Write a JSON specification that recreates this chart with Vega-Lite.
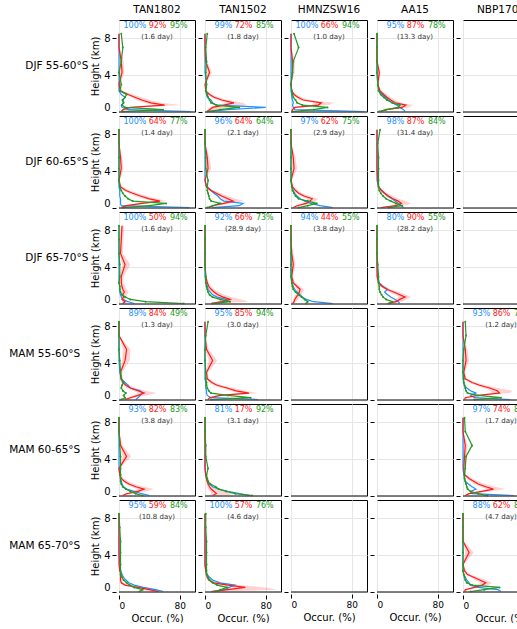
{
"$schema":"https://vega.github.io/schema/vega-lite/v6.json",
"padding":{"left":5,"top":4,"right":0,"bottom":0},
"config":{"font":"DejaVu Sans","view":{"stroke":"black","strokeWidth":1},
"axis":{"labelFontSize":10,"titleFontSize":10,"titleFontWeight":"normal","gridColor":"#e6e6e6","tickColor":"black","domain":false,"labelColor":"black","titleColor":"black","tickSize":4,"labelPadding":2,"titlePadding":3,"labelOverlap":false},
"axisX":{"labelFontSize":9},
"header":{"labelFontSize":10.5,"labelColor":"black"}},
"data":{"values":[
{"c":"TAN1802","r":"DJF  55-60°S","ot":"100%","gt":"92%","mt":"95%","d":"(1.6 day)"},
{"c":"TAN1802","r":"DJF  55-60°S","h":0.05,"o":95,"g":3,"l":2,"u":5,"m":5},
{"c":"TAN1802","r":"DJF  55-60°S","h":0.25,"o":12,"g":5,"l":3,"u":8,"m":58},
{"c":"TAN1802","r":"DJF  55-60°S","h":0.5,"o":4,"g":15,"l":10,"u":22,"m":8},
{"c":"TAN1802","r":"DJF  55-60°S","h":0.75,"o":3,"g":60,"l":48,"u":82,"m":4},
{"c":"TAN1802","r":"DJF  55-60°S","h":1,"o":6,"g":42,"l":33,"u":55,"m":6},
{"c":"TAN1802","r":"DJF  55-60°S","h":1.3,"o":4,"g":30,"l":23,"u":40,"m":5},
{"c":"TAN1802","r":"DJF  55-60°S","h":1.6,"o":8,"g":21,"l":16,"u":30,"m":8},
{"c":"TAN1802","r":"DJF  55-60°S","h":1.9,"o":3,"g":12,"l":8,"u":18,"m":10},
{"c":"TAN1802","r":"DJF  55-60°S","h":2.3,"o":0,"g":2,"l":0,"u":5,"m":1},
{"c":"TAN1802","r":"DJF  55-60°S","h":3,"o":0,"g":0,"l":0,"u":2,"m":3},
{"c":"TAN1802","r":"DJF  55-60°S","h":4.3,"o":0,"g":4,"l":1,"u":7,"m":0},
{"c":"TAN1802","r":"DJF  55-60°S","h":5.5,"o":0,"g":3,"l":1,"u":6,"m":3},
{"c":"TAN1802","r":"DJF  55-60°S","h":7,"o":0,"g":0,"l":0,"u":1,"m":5},
{"c":"TAN1802","r":"DJF  55-60°S","h":8.5,"o":0,"g":0,"l":0,"u":0,"m":3},
{"c":"TAN1502","r":"DJF  55-60°S","ot":"99%","gt":"72%","mt":"85%","d":"(1.8 day)"},
{"c":"TAN1502","r":"DJF  55-60°S","h":0.05,"o":5,"g":3,"l":2,"u":5,"m":3},
{"c":"TAN1502","r":"DJF  55-60°S","h":0.25,"o":30,"g":6,"l":3,"u":12,"m":20},
{"c":"TAN1502","r":"DJF  55-60°S","h":0.5,"o":80,"g":10,"l":6,"u":40,"m":45},
{"c":"TAN1502","r":"DJF  55-60°S","h":0.75,"o":15,"g":25,"l":15,"u":55,"m":15},
{"c":"TAN1502","r":"DJF  55-60°S","h":1,"o":10,"g":38,"l":28,"u":50,"m":8},
{"c":"TAN1502","r":"DJF  55-60°S","h":1.3,"o":8,"g":22,"l":16,"u":30,"m":6},
{"c":"TAN1502","r":"DJF  55-60°S","h":1.6,"o":3,"g":12,"l":8,"u":18,"m":4},
{"c":"TAN1502","r":"DJF  55-60°S","h":1.9,"o":2,"g":6,"l":3,"u":9,"m":3},
{"c":"TAN1502","r":"DJF  55-60°S","h":2.3,"o":1,"g":1,"l":0,"u":3,"m":1},
{"c":"TAN1502","r":"DJF  55-60°S","h":3,"o":2,"g":0,"l":0,"u":1,"m":2},
{"c":"TAN1502","r":"DJF  55-60°S","h":4.3,"o":0,"g":6,"l":3,"u":9,"m":1},
{"c":"TAN1502","r":"DJF  55-60°S","h":5.5,"o":0,"g":1,"l":0,"u":3,"m":2},
{"c":"TAN1502","r":"DJF  55-60°S","h":7,"o":0,"g":0,"l":0,"u":0,"m":1},
{"c":"TAN1502","r":"DJF  55-60°S","h":8.5,"o":0,"g":0,"l":0,"u":0,"m":3},
{"c":"HMNZSW16","r":"DJF  55-60°S","ot":"100%","gt":"66%","mt":"94%","d":"(1.0 day)"},
{"c":"HMNZSW16","r":"DJF  55-60°S","h":0.05,"o":97,"g":1,"l":0,"u":2,"m":2},
{"c":"HMNZSW16","r":"DJF  55-60°S","h":0.25,"o":5,"g":2,"l":1,"u":4,"m":30},
{"c":"HMNZSW16","r":"DJF  55-60°S","h":0.5,"o":3,"g":5,"l":3,"u":9,"m":48},
{"c":"HMNZSW16","r":"DJF  55-60°S","h":0.75,"o":2,"g":36,"l":27,"u":50,"m":15},
{"c":"HMNZSW16","r":"DJF  55-60°S","h":1,"o":3,"g":40,"l":30,"u":57,"m":8},
{"c":"HMNZSW16","r":"DJF  55-60°S","h":1.3,"o":2,"g":16,"l":11,"u":24,"m":6},
{"c":"HMNZSW16","r":"DJF  55-60°S","h":1.6,"o":1,"g":9,"l":6,"u":14,"m":3},
{"c":"HMNZSW16","r":"DJF  55-60°S","h":1.9,"o":1,"g":4,"l":2,"u":7,"m":2},
{"c":"HMNZSW16","r":"DJF  55-60°S","h":2.3,"o":0,"g":1,"l":0,"u":2,"m":1},
{"c":"HMNZSW16","r":"DJF  55-60°S","h":3,"o":0,"g":0,"l":0,"u":0,"m":0},
{"c":"HMNZSW16","r":"DJF  55-60°S","h":4.3,"o":0,"g":2,"l":0,"u":5,"m":2},
{"c":"HMNZSW16","r":"DJF  55-60°S","h":5.5,"o":0,"g":2,"l":0,"u":5,"m":3},
{"c":"HMNZSW16","r":"DJF  55-60°S","h":7,"o":0,"g":0,"l":0,"u":1,"m":10},
{"c":"HMNZSW16","r":"DJF  55-60°S","h":8.5,"o":0,"g":0,"l":0,"u":0,"m":4},
{"c":"AA15","r":"DJF  55-60°S","ot":"95%","gt":"87%","mt":"78%","d":"(13.3 day)"},
{"c":"AA15","r":"DJF  55-60°S","h":0.05,"o":37,"g":5,"l":3,"u":8,"m":3},
{"c":"AA15","r":"DJF  55-60°S","h":0.25,"o":35,"g":12,"l":8,"u":17,"m":12},
{"c":"AA15","r":"DJF  55-60°S","h":0.5,"o":30,"g":33,"l":27,"u":42,"m":28},
{"c":"AA15","r":"DJF  55-60°S","h":0.75,"o":26,"g":38,"l":31,"u":47,"m":30},
{"c":"AA15","r":"DJF  55-60°S","h":1,"o":20,"g":24,"l":19,"u":31,"m":20},
{"c":"AA15","r":"DJF  55-60°S","h":1.3,"o":15,"g":18,"l":14,"u":24,"m":13},
{"c":"AA15","r":"DJF  55-60°S","h":1.6,"o":11,"g":13,"l":10,"u":18,"m":9},
{"c":"AA15","r":"DJF  55-60°S","h":1.9,"o":7,"g":9,"l":6,"u":13,"m":5},
{"c":"AA15","r":"DJF  55-60°S","h":2.3,"o":3,"g":4,"l":2,"u":6,"m":2},
{"c":"AA15","r":"DJF  55-60°S","h":3,"o":1,"g":1,"l":0,"u":2,"m":1},
{"c":"AA15","r":"DJF  55-60°S","h":4.3,"o":0,"g":3,"l":1,"u":5,"m":0},
{"c":"AA15","r":"DJF  55-60°S","h":5.5,"o":0,"g":0,"l":0,"u":1,"m":0},
{"c":"AA15","r":"DJF  55-60°S","h":7,"o":0,"g":0,"l":0,"u":0,"m":0},
{"c":"AA15","r":"DJF  55-60°S","h":8.5,"o":0,"g":0,"l":0,"u":0,"m":0},
{"c":"NBP1704","r":"DJF  55-60°S"},
{"c":"TAN1802","r":"DJF  60-65°S","ot":"100%","gt":"64%","mt":"77%","d":"(1.4 day)"},
{"c":"TAN1802","r":"DJF  60-65°S","h":0.05,"o":93,"g":3,"l":2,"u":5,"m":5},
{"c":"TAN1802","r":"DJF  60-65°S","h":0.25,"o":3,"g":10,"l":7,"u":15,"m":40},
{"c":"TAN1802","r":"DJF  60-65°S","h":0.5,"o":2,"g":30,"l":22,"u":40,"m":62},
{"c":"TAN1802","r":"DJF  60-65°S","h":0.75,"o":2,"g":54,"l":44,"u":62,"m":18},
{"c":"TAN1802","r":"DJF  60-65°S","h":1,"o":2,"g":40,"l":32,"u":50,"m":12},
{"c":"TAN1802","r":"DJF  60-65°S","h":1.3,"o":1,"g":28,"l":21,"u":36,"m":8},
{"c":"TAN1802","r":"DJF  60-65°S","h":1.6,"o":1,"g":18,"l":13,"u":25,"m":5},
{"c":"TAN1802","r":"DJF  60-65°S","h":1.9,"o":1,"g":9,"l":6,"u":14,"m":3},
{"c":"TAN1802","r":"DJF  60-65°S","h":2.3,"o":0,"g":2,"l":0,"u":4,"m":1},
{"c":"TAN1802","r":"DJF  60-65°S","h":3,"o":0,"g":0,"l":0,"u":1,"m":0},
{"c":"TAN1802","r":"DJF  60-65°S","h":4.3,"o":0,"g":3,"l":1,"u":6,"m":0},
{"c":"TAN1802","r":"DJF  60-65°S","h":5.5,"o":0,"g":2,"l":0,"u":4,"m":0},
{"c":"TAN1802","r":"DJF  60-65°S","h":7,"o":0,"g":0,"l":0,"u":0,"m":0},
{"c":"TAN1802","r":"DJF  60-65°S","h":8.5,"o":0,"g":0,"l":0,"u":0,"m":0},
{"c":"TAN1502","r":"DJF  60-65°S","ot":"96%","gt":"64%","mt":"64%","d":"(2.1 day)"},
{"c":"TAN1502","r":"DJF  60-65°S","h":0.05,"o":10,"g":5,"l":3,"u":8,"m":3},
{"c":"TAN1502","r":"DJF  60-65°S","h":0.25,"o":45,"g":10,"l":6,"u":15,"m":10},
{"c":"TAN1502","r":"DJF  60-65°S","h":0.5,"o":50,"g":25,"l":18,"u":35,"m":20},
{"c":"TAN1502","r":"DJF  60-65°S","h":0.75,"o":25,"g":37,"l":28,"u":51,"m":8},
{"c":"TAN1502","r":"DJF  60-65°S","h":1,"o":20,"g":30,"l":23,"u":40,"m":6},
{"c":"TAN1502","r":"DJF  60-65°S","h":1.3,"o":17,"g":22,"l":16,"u":30,"m":5},
{"c":"TAN1502","r":"DJF  60-65°S","h":1.6,"o":12,"g":15,"l":10,"u":21,"m":4},
{"c":"TAN1502","r":"DJF  60-65°S","h":1.9,"o":8,"g":8,"l":5,"u":12,"m":3},
{"c":"TAN1502","r":"DJF  60-65°S","h":2.3,"o":2,"g":2,"l":0,"u":4,"m":3},
{"c":"TAN1502","r":"DJF  60-65°S","h":3,"o":0,"g":0,"l":0,"u":1,"m":4},
{"c":"TAN1502","r":"DJF  60-65°S","h":4.3,"o":0,"g":4,"l":1,"u":8,"m":1},
{"c":"TAN1502","r":"DJF  60-65°S","h":5.5,"o":0,"g":3,"l":1,"u":6,"m":1},
{"c":"TAN1502","r":"DJF  60-65°S","h":7,"o":0,"g":0,"l":0,"u":0,"m":0},
{"c":"TAN1502","r":"DJF  60-65°S","h":8.5,"o":0,"g":0,"l":0,"u":0,"m":0},
{"c":"HMNZSW16","r":"DJF  60-65°S","ot":"97%","gt":"62%","mt":"75%","d":"(2.9 day)"},
{"c":"HMNZSW16","r":"DJF  60-65°S","h":0.05,"o":55,"g":3,"l":2,"u":5,"m":10},
{"c":"HMNZSW16","r":"DJF  60-65°S","h":0.25,"o":38,"g":8,"l":5,"u":12,"m":22},
{"c":"HMNZSW16","r":"DJF  60-65°S","h":0.5,"o":26,"g":20,"l":14,"u":28,"m":34},
{"c":"HMNZSW16","r":"DJF  60-65°S","h":0.75,"o":18,"g":25,"l":19,"u":33,"m":22},
{"c":"HMNZSW16","r":"DJF  60-65°S","h":1,"o":12,"g":28,"l":21,"u":36,"m":10},
{"c":"HMNZSW16","r":"DJF  60-65°S","h":1.3,"o":8,"g":17,"l":12,"u":24,"m":6},
{"c":"HMNZSW16","r":"DJF  60-65°S","h":1.6,"o":5,"g":10,"l":7,"u":15,"m":4},
{"c":"HMNZSW16","r":"DJF  60-65°S","h":1.9,"o":3,"g":6,"l":4,"u":9,"m":2},
{"c":"HMNZSW16","r":"DJF  60-65°S","h":2.3,"o":1,"g":2,"l":0,"u":4,"m":1},
{"c":"HMNZSW16","r":"DJF  60-65°S","h":3,"o":0,"g":0,"l":0,"u":1,"m":0},
{"c":"HMNZSW16","r":"DJF  60-65°S","h":4.3,"o":0,"g":4,"l":1,"u":8,"m":0},
{"c":"HMNZSW16","r":"DJF  60-65°S","h":5.5,"o":0,"g":3,"l":1,"u":6,"m":0},
{"c":"HMNZSW16","r":"DJF  60-65°S","h":7,"o":0,"g":0,"l":0,"u":0,"m":0},
{"c":"HMNZSW16","r":"DJF  60-65°S","h":8.5,"o":0,"g":0,"l":0,"u":0,"m":0},
{"c":"AA15","r":"DJF  60-65°S","ot":"98%","gt":"87%","mt":"84%","d":"(31.4 day)"},
{"c":"AA15","r":"DJF  60-65°S","h":0.05,"o":35,"g":5,"l":3,"u":8,"m":15},
{"c":"AA15","r":"DJF  60-65°S","h":0.25,"o":32,"g":25,"l":19,"u":35,"m":33},
{"c":"AA15","r":"DJF  60-65°S","h":0.5,"o":28,"g":32,"l":25,"u":45,"m":25},
{"c":"AA15","r":"DJF  60-65°S","h":0.75,"o":24,"g":28,"l":22,"u":38,"m":18},
{"c":"AA15","r":"DJF  60-65°S","h":1,"o":20,"g":21,"l":16,"u":28,"m":12},
{"c":"AA15","r":"DJF  60-65°S","h":1.3,"o":14,"g":15,"l":11,"u":21,"m":8},
{"c":"AA15","r":"DJF  60-65°S","h":1.6,"o":10,"g":10,"l":7,"u":14,"m":5},
{"c":"AA15","r":"DJF  60-65°S","h":1.9,"o":6,"g":6,"l":4,"u":9,"m":3},
{"c":"AA15","r":"DJF  60-65°S","h":2.3,"o":2,"g":2,"l":1,"u":4,"m":2},
{"c":"AA15","r":"DJF  60-65°S","h":3,"o":0,"g":1,"l":0,"u":2,"m":2},
{"c":"AA15","r":"DJF  60-65°S","h":4.3,"o":0,"g":0,"l":0,"u":1,"m":2},
{"c":"AA15","r":"DJF  60-65°S","h":5.5,"o":0,"g":0,"l":0,"u":0,"m":2},
{"c":"AA15","r":"DJF  60-65°S","h":7,"o":0,"g":0,"l":0,"u":0,"m":1},
{"c":"AA15","r":"DJF  60-65°S","h":8.5,"o":0,"g":0,"l":0,"u":0,"m":4},
{"c":"NBP1704","r":"DJF  60-65°S"},
{"c":"TAN1802","r":"DJF  65-70°S","ot":"100%","gt":"50%","mt":"94%","d":"(1.6 day)"},
{"c":"TAN1802","r":"DJF  65-70°S","h":0.05,"o":20,"g":5,"l":3,"u":9,"m":85},
{"c":"TAN1802","r":"DJF  65-70°S","h":0.25,"o":12,"g":8,"l":5,"u":14,"m":35},
{"c":"TAN1802","r":"DJF  65-70°S","h":0.5,"o":5,"g":4,"l":2,"u":8,"m":15},
{"c":"TAN1802","r":"DJF  65-70°S","h":0.75,"o":3,"g":6,"l":3,"u":11,"m":8},
{"c":"TAN1802","r":"DJF  65-70°S","h":1,"o":2,"g":5,"l":3,"u":10,"m":4},
{"c":"TAN1802","r":"DJF  65-70°S","h":1.3,"o":1,"g":7,"l":4,"u":13,"m":2},
{"c":"TAN1802","r":"DJF  65-70°S","h":1.6,"o":1,"g":5,"l":3,"u":10,"m":1},
{"c":"TAN1802","r":"DJF  65-70°S","h":1.9,"o":1,"g":4,"l":2,"u":8,"m":1},
{"c":"TAN1802","r":"DJF  65-70°S","h":2.3,"o":0,"g":3,"l":1,"u":6,"m":0},
{"c":"TAN1802","r":"DJF  65-70°S","h":3,"o":0,"g":3,"l":1,"u":6,"m":1},
{"c":"TAN1802","r":"DJF  65-70°S","h":4.3,"o":0,"g":8,"l":4,"u":15,"m":1},
{"c":"TAN1802","r":"DJF  65-70°S","h":5.5,"o":0,"g":2,"l":0,"u":5,"m":0},
{"c":"TAN1802","r":"DJF  65-70°S","h":7,"o":0,"g":3,"l":1,"u":6,"m":0},
{"c":"TAN1802","r":"DJF  65-70°S","h":8.5,"o":0,"g":4,"l":2,"u":7,"m":0},
{"c":"TAN1502","r":"DJF  65-70°S","ot":"92%","gt":"66%","mt":"73%","d":"(28.9 day)"},
{"c":"TAN1502","r":"DJF  65-70°S","h":0.05,"o":16,"g":8,"l":5,"u":14,"m":10},
{"c":"TAN1502","r":"DJF  65-70°S","h":0.25,"o":25,"g":22,"l":15,"u":58,"m":33},
{"c":"TAN1502","r":"DJF  65-70°S","h":0.5,"o":28,"g":33,"l":24,"u":48,"m":20},
{"c":"TAN1502","r":"DJF  65-70°S","h":0.75,"o":16,"g":24,"l":17,"u":35,"m":10},
{"c":"TAN1502","r":"DJF  65-70°S","h":1,"o":10,"g":17,"l":12,"u":25,"m":6},
{"c":"TAN1502","r":"DJF  65-70°S","h":1.3,"o":7,"g":12,"l":8,"u":18,"m":4},
{"c":"TAN1502","r":"DJF  65-70°S","h":1.6,"o":4,"g":8,"l":5,"u":12,"m":3},
{"c":"TAN1502","r":"DJF  65-70°S","h":1.9,"o":3,"g":5,"l":3,"u":8,"m":2},
{"c":"TAN1502","r":"DJF  65-70°S","h":2.3,"o":1,"g":3,"l":1,"u":5,"m":1},
{"c":"TAN1502","r":"DJF  65-70°S","h":3,"o":0,"g":1,"l":0,"u":2,"m":1},
{"c":"TAN1502","r":"DJF  65-70°S","h":4.3,"o":0,"g":0,"l":0,"u":1,"m":0},
{"c":"TAN1502","r":"DJF  65-70°S","h":5.5,"o":0,"g":0,"l":0,"u":0,"m":0},
{"c":"TAN1502","r":"DJF  65-70°S","h":7,"o":0,"g":0,"l":0,"u":0,"m":0},
{"c":"TAN1502","r":"DJF  65-70°S","h":8.5,"o":0,"g":0,"l":0,"u":0,"m":0},
{"c":"HMNZSW16","r":"DJF  65-70°S","ot":"94%","gt":"44%","mt":"55%","d":"(3.8 day)"},
{"c":"HMNZSW16","r":"DJF  65-70°S","h":0.05,"o":55,"g":2,"l":1,"u":4,"m":20},
{"c":"HMNZSW16","r":"DJF  65-70°S","h":0.25,"o":30,"g":4,"l":2,"u":7,"m":22},
{"c":"HMNZSW16","r":"DJF  65-70°S","h":0.5,"o":20,"g":5,"l":3,"u":9,"m":18},
{"c":"HMNZSW16","r":"DJF  65-70°S","h":0.75,"o":15,"g":7,"l":4,"u":12,"m":14},
{"c":"HMNZSW16","r":"DJF  65-70°S","h":1,"o":12,"g":9,"l":6,"u":14,"m":10},
{"c":"HMNZSW16","r":"DJF  65-70°S","h":1.3,"o":8,"g":11,"l":8,"u":16,"m":6},
{"c":"HMNZSW16","r":"DJF  65-70°S","h":1.6,"o":5,"g":12,"l":8,"u":17,"m":3},
{"c":"HMNZSW16","r":"DJF  65-70°S","h":1.9,"o":3,"g":8,"l":5,"u":12,"m":2},
{"c":"HMNZSW16","r":"DJF  65-70°S","h":2.3,"o":1,"g":3,"l":1,"u":6,"m":1},
{"c":"HMNZSW16","r":"DJF  65-70°S","h":3,"o":0,"g":1,"l":0,"u":2,"m":0},
{"c":"HMNZSW16","r":"DJF  65-70°S","h":4.3,"o":0,"g":3,"l":1,"u":6,"m":0},
{"c":"HMNZSW16","r":"DJF  65-70°S","h":5.5,"o":0,"g":1,"l":0,"u":3,"m":0},
{"c":"HMNZSW16","r":"DJF  65-70°S","h":7,"o":0,"g":0,"l":0,"u":0,"m":0},
{"c":"HMNZSW16","r":"DJF  65-70°S","h":8.5,"o":0,"g":0,"l":0,"u":0,"m":0},
{"c":"AA15","r":"DJF  65-70°S","ot":"80%","gt":"90%","mt":"55%","d":"(28.2 day)"},
{"c":"AA15","r":"DJF  65-70°S","h":0.05,"o":30,"g":14,"l":10,"u":20,"m":16},
{"c":"AA15","r":"DJF  65-70°S","h":0.25,"o":28,"g":25,"l":19,"u":33,"m":20},
{"c":"AA15","r":"DJF  65-70°S","h":0.5,"o":24,"g":30,"l":23,"u":39,"m":12},
{"c":"AA15","r":"DJF  65-70°S","h":0.75,"o":18,"g":37,"l":29,"u":45,"m":8},
{"c":"AA15","r":"DJF  65-70°S","h":1,"o":14,"g":30,"l":23,"u":38,"m":6},
{"c":"AA15","r":"DJF  65-70°S","h":1.3,"o":10,"g":22,"l":16,"u":29,"m":4},
{"c":"AA15","r":"DJF  65-70°S","h":1.6,"o":14,"g":13,"l":9,"u":18,"m":3},
{"c":"AA15","r":"DJF  65-70°S","h":1.9,"o":8,"g":7,"l":4,"u":11,"m":3},
{"c":"AA15","r":"DJF  65-70°S","h":2.3,"o":3,"g":2,"l":1,"u":4,"m":2},
{"c":"AA15","r":"DJF  65-70°S","h":3,"o":1,"g":0,"l":0,"u":1,"m":2},
{"c":"AA15","r":"DJF  65-70°S","h":4.3,"o":0,"g":0,"l":0,"u":0,"m":1},
{"c":"AA15","r":"DJF  65-70°S","h":5.5,"o":0,"g":0,"l":0,"u":0,"m":0},
{"c":"AA15","r":"DJF  65-70°S","h":7,"o":0,"g":0,"l":0,"u":0,"m":0},
{"c":"AA15","r":"DJF  65-70°S","h":8.5,"o":0,"g":0,"l":0,"u":0,"m":0},
{"c":"NBP1704","r":"DJF  65-70°S"},
{"c":"TAN1802","r":"MAM  55-60°S","ot":"89%","gt":"84%","mt":"49%","d":"(1.3 day)"},
{"c":"TAN1802","r":"MAM  55-60°S","h":0.05,"o":22,"g":8,"l":5,"u":12,"m":3},
{"c":"TAN1802","r":"MAM  55-60°S","h":0.25,"o":25,"g":15,"l":10,"u":22,"m":8},
{"c":"TAN1802","r":"MAM  55-60°S","h":0.5,"o":28,"g":25,"l":18,"u":36,"m":6},
{"c":"TAN1802","r":"MAM  55-60°S","h":0.75,"o":31,"g":33,"l":25,"u":50,"m":9},
{"c":"TAN1802","r":"MAM  55-60°S","h":1,"o":28,"g":25,"l":18,"u":35,"m":5},
{"c":"TAN1802","r":"MAM  55-60°S","h":1.3,"o":15,"g":15,"l":10,"u":22,"m":3},
{"c":"TAN1802","r":"MAM  55-60°S","h":1.6,"o":12,"g":9,"l":6,"u":14,"m":4},
{"c":"TAN1802","r":"MAM  55-60°S","h":1.9,"o":8,"g":5,"l":3,"u":8,"m":6},
{"c":"TAN1802","r":"MAM  55-60°S","h":2.3,"o":3,"g":3,"l":1,"u":5,"m":3},
{"c":"TAN1802","r":"MAM  55-60°S","h":3,"o":1,"g":2,"l":1,"u":4,"m":2},
{"c":"TAN1802","r":"MAM  55-60°S","h":4.3,"o":0,"g":8,"l":4,"u":14,"m":1},
{"c":"TAN1802","r":"MAM  55-60°S","h":5.5,"o":0,"g":10,"l":5,"u":15,"m":0},
{"c":"TAN1802","r":"MAM  55-60°S","h":7,"o":0,"g":0,"l":0,"u":0,"m":0},
{"c":"TAN1802","r":"MAM  55-60°S","h":8.5,"o":0,"g":0,"l":0,"u":0,"m":0},
{"c":"TAN1502","r":"MAM  55-60°S","ot":"95%","gt":"85%","mt":"94%","d":"(3.0 day)"},
{"c":"TAN1502","r":"MAM  55-60°S","h":0.05,"o":70,"g":4,"l":2,"u":7,"m":8},
{"c":"TAN1502","r":"MAM  55-60°S","h":0.25,"o":8,"g":6,"l":4,"u":10,"m":60},
{"c":"TAN1502","r":"MAM  55-60°S","h":0.5,"o":3,"g":20,"l":14,"u":28,"m":30},
{"c":"TAN1502","r":"MAM  55-60°S","h":0.75,"o":2,"g":58,"l":46,"u":70,"m":8},
{"c":"TAN1502","r":"MAM  55-60°S","h":1,"o":2,"g":41,"l":32,"u":52,"m":5},
{"c":"TAN1502","r":"MAM  55-60°S","h":1.3,"o":1,"g":29,"l":22,"u":38,"m":3},
{"c":"TAN1502","r":"MAM  55-60°S","h":1.6,"o":1,"g":16,"l":11,"u":22,"m":2},
{"c":"TAN1502","r":"MAM  55-60°S","h":1.9,"o":1,"g":9,"l":6,"u":13,"m":2},
{"c":"TAN1502","r":"MAM  55-60°S","h":2.3,"o":0,"g":3,"l":1,"u":5,"m":1},
{"c":"TAN1502","r":"MAM  55-60°S","h":3,"o":0,"g":2,"l":0,"u":4,"m":1},
{"c":"TAN1502","r":"MAM  55-60°S","h":4.3,"o":0,"g":10,"l":5,"u":16,"m":0},
{"c":"TAN1502","r":"MAM  55-60°S","h":5.5,"o":0,"g":2,"l":0,"u":5,"m":0},
{"c":"TAN1502","r":"MAM  55-60°S","h":7,"o":0,"g":0,"l":0,"u":0,"m":1},
{"c":"TAN1502","r":"MAM  55-60°S","h":8.5,"o":0,"g":0,"l":0,"u":0,"m":4},
{"c":"HMNZSW16","r":"MAM  55-60°S"},
{"c":"AA15","r":"MAM  55-60°S"},
{"c":"NBP1704","r":"MAM  55-60°S","ot":"93%","gt":"86%","mt":"70%","d":"(1.2 day)"},
{"c":"NBP1704","r":"MAM  55-60°S","h":0.05,"o":62,"g":2,"l":1,"u":4,"m":15},
{"c":"NBP1704","r":"MAM  55-60°S","h":0.25,"o":15,"g":3,"l":2,"u":6,"m":50},
{"c":"NBP1704","r":"MAM  55-60°S","h":0.5,"o":10,"g":20,"l":14,"u":28,"m":20},
{"c":"NBP1704","r":"MAM  55-60°S","h":0.75,"o":17,"g":48,"l":38,"u":62,"m":6},
{"c":"NBP1704","r":"MAM  55-60°S","h":1,"o":10,"g":45,"l":36,"u":65,"m":4},
{"c":"NBP1704","r":"MAM  55-60°S","h":1.3,"o":5,"g":35,"l":27,"u":45,"m":3},
{"c":"NBP1704","r":"MAM  55-60°S","h":1.6,"o":2,"g":22,"l":16,"u":30,"m":2},
{"c":"NBP1704","r":"MAM  55-60°S","h":1.9,"o":1,"g":12,"l":8,"u":17,"m":1},
{"c":"NBP1704","r":"MAM  55-60°S","h":2.3,"o":0,"g":3,"l":1,"u":5,"m":1},
{"c":"NBP1704","r":"MAM  55-60°S","h":3,"o":0,"g":1,"l":0,"u":2,"m":0},
{"c":"NBP1704","r":"MAM  55-60°S","h":4.3,"o":0,"g":4,"l":1,"u":8,"m":0},
{"c":"NBP1704","r":"MAM  55-60°S","h":5.5,"o":0,"g":3,"l":1,"u":6,"m":1},
{"c":"NBP1704","r":"MAM  55-60°S","h":7,"o":0,"g":0,"l":0,"u":0,"m":4},
{"c":"NBP1704","r":"MAM  55-60°S","h":8.5,"o":0,"g":0,"l":0,"u":0,"m":3},
{"c":"TAN1802","r":"MAM  60-65°S","ot":"93%","gt":"82%","mt":"83%","d":"(3.8 day)"},
{"c":"TAN1802","r":"MAM  60-65°S","h":0.05,"o":40,"g":5,"l":3,"u":9,"m":31},
{"c":"TAN1802","r":"MAM  60-65°S","h":0.25,"o":30,"g":10,"l":6,"u":16,"m":22},
{"c":"TAN1802","r":"MAM  60-65°S","h":0.5,"o":20,"g":25,"l":18,"u":36,"m":15},
{"c":"TAN1802","r":"MAM  60-65°S","h":0.75,"o":10,"g":33,"l":24,"u":46,"m":9},
{"c":"TAN1802","r":"MAM  60-65°S","h":1,"o":6,"g":22,"l":16,"u":32,"m":5},
{"c":"TAN1802","r":"MAM  60-65°S","h":1.3,"o":4,"g":13,"l":9,"u":20,"m":3},
{"c":"TAN1802","r":"MAM  60-65°S","h":1.6,"o":3,"g":7,"l":4,"u":12,"m":2},
{"c":"TAN1802","r":"MAM  60-65°S","h":1.9,"o":2,"g":3,"l":1,"u":6,"m":2},
{"c":"TAN1802","r":"MAM  60-65°S","h":2.3,"o":1,"g":1,"l":0,"u":3,"m":2},
{"c":"TAN1802","r":"MAM  60-65°S","h":3,"o":0,"g":0,"l":0,"u":1,"m":2},
{"c":"TAN1802","r":"MAM  60-65°S","h":4.3,"o":0,"g":10,"l":5,"u":16,"m":2},
{"c":"TAN1802","r":"MAM  60-65°S","h":5.5,"o":0,"g":2,"l":0,"u":5,"m":1},
{"c":"TAN1802","r":"MAM  60-65°S","h":7,"o":0,"g":0,"l":0,"u":0,"m":0},
{"c":"TAN1802","r":"MAM  60-65°S","h":8.5,"o":0,"g":0,"l":0,"u":0,"m":0},
{"c":"TAN1502","r":"MAM  60-65°S","ot":"81%","gt":"17%","mt":"92%","d":"(3.1 day)"},
{"c":"TAN1502","r":"MAM  60-65°S","h":0.05,"o":60,"g":10,"l":5,"u":30,"m":62},
{"c":"TAN1502","r":"MAM  60-65°S","h":0.25,"o":45,"g":15,"l":8,"u":38,"m":40},
{"c":"TAN1502","r":"MAM  60-65°S","h":0.5,"o":30,"g":12,"l":7,"u":25,"m":28},
{"c":"TAN1502","r":"MAM  60-65°S","h":0.75,"o":18,"g":8,"l":4,"u":15,"m":18},
{"c":"TAN1502","r":"MAM  60-65°S","h":1,"o":10,"g":6,"l":3,"u":11,"m":14},
{"c":"TAN1502","r":"MAM  60-65°S","h":1.3,"o":6,"g":4,"l":2,"u":8,"m":7},
{"c":"TAN1502","r":"MAM  60-65°S","h":1.6,"o":3,"g":3,"l":1,"u":6,"m":4},
{"c":"TAN1502","r":"MAM  60-65°S","h":1.9,"o":2,"g":2,"l":1,"u":4,"m":3},
{"c":"TAN1502","r":"MAM  60-65°S","h":2.3,"o":1,"g":1,"l":0,"u":2,"m":2},
{"c":"TAN1502","r":"MAM  60-65°S","h":3,"o":0,"g":0,"l":0,"u":1,"m":4},
{"c":"TAN1502","r":"MAM  60-65°S","h":4.3,"o":0,"g":0,"l":0,"u":0,"m":1},
{"c":"TAN1502","r":"MAM  60-65°S","h":5.5,"o":0,"g":0,"l":0,"u":0,"m":1},
{"c":"TAN1502","r":"MAM  60-65°S","h":7,"o":0,"g":0,"l":0,"u":0,"m":0},
{"c":"TAN1502","r":"MAM  60-65°S","h":8.5,"o":0,"g":0,"l":0,"u":0,"m":0},
{"c":"HMNZSW16","r":"MAM  60-65°S"},
{"c":"AA15","r":"MAM  60-65°S"},
{"c":"NBP1704","r":"MAM  60-65°S","ot":"97%","gt":"74%","mt":"88%","d":"(1.7 day)"},
{"c":"NBP1704","r":"MAM  60-65°S","h":0.05,"o":67,"g":3,"l":2,"u":5,"m":32},
{"c":"NBP1704","r":"MAM  60-65°S","h":0.25,"o":12,"g":8,"l":5,"u":12,"m":20},
{"c":"NBP1704","r":"MAM  60-65°S","h":0.5,"o":10,"g":25,"l":18,"u":36,"m":10},
{"c":"NBP1704","r":"MAM  60-65°S","h":0.75,"o":17,"g":40,"l":31,"u":56,"m":6},
{"c":"NBP1704","r":"MAM  60-65°S","h":1,"o":12,"g":30,"l":23,"u":42,"m":5},
{"c":"NBP1704","r":"MAM  60-65°S","h":1.3,"o":7,"g":20,"l":15,"u":28,"m":4},
{"c":"NBP1704","r":"MAM  60-65°S","h":1.6,"o":3,"g":14,"l":10,"u":20,"m":3},
{"c":"NBP1704","r":"MAM  60-65°S","h":1.9,"o":2,"g":8,"l":5,"u":12,"m":2},
{"c":"NBP1704","r":"MAM  60-65°S","h":2.3,"o":1,"g":2,"l":1,"u":4,"m":2},
{"c":"NBP1704","r":"MAM  60-65°S","h":3,"o":0,"g":1,"l":0,"u":2,"m":3},
{"c":"NBP1704","r":"MAM  60-65°S","h":4.3,"o":0,"g":2,"l":0,"u":5,"m":4},
{"c":"NBP1704","r":"MAM  60-65°S","h":5.5,"o":0,"g":3,"l":1,"u":6,"m":12},
{"c":"NBP1704","r":"MAM  60-65°S","h":7,"o":0,"g":0,"l":0,"u":0,"m":3},
{"c":"NBP1704","r":"MAM  60-65°S","h":8.5,"o":0,"g":0,"l":0,"u":0,"m":2},
{"c":"TAN1802","r":"MAM  65-70°S","ot":"95%","gt":"59%","mt":"84%","d":"(10.8 day)"},
{"c":"TAN1802","r":"MAM  65-70°S","h":0.05,"o":58,"g":52,"l":40,"u":62,"m":27},
{"c":"TAN1802","r":"MAM  65-70°S","h":0.25,"o":48,"g":40,"l":30,"u":52,"m":31},
{"c":"TAN1802","r":"MAM  65-70°S","h":0.5,"o":32,"g":25,"l":18,"u":35,"m":20},
{"c":"TAN1802","r":"MAM  65-70°S","h":0.75,"o":20,"g":8,"l":5,"u":14,"m":14},
{"c":"TAN1802","r":"MAM  65-70°S","h":1,"o":13,"g":3,"l":1,"u":6,"m":10},
{"c":"TAN1802","r":"MAM  65-70°S","h":1.3,"o":9,"g":2,"l":1,"u":4,"m":6},
{"c":"TAN1802","r":"MAM  65-70°S","h":1.6,"o":6,"g":2,"l":1,"u":4,"m":4},
{"c":"TAN1802","r":"MAM  65-70°S","h":1.9,"o":4,"g":3,"l":1,"u":6,"m":2},
{"c":"TAN1802","r":"MAM  65-70°S","h":2.3,"o":2,"g":1,"l":0,"u":2,"m":2},
{"c":"TAN1802","r":"MAM  65-70°S","h":3,"o":1,"g":0,"l":0,"u":1,"m":2},
{"c":"TAN1802","r":"MAM  65-70°S","h":4.3,"o":0,"g":0,"l":0,"u":0,"m":2},
{"c":"TAN1802","r":"MAM  65-70°S","h":5.5,"o":0,"g":0,"l":0,"u":0,"m":2},
{"c":"TAN1802","r":"MAM  65-70°S","h":7,"o":0,"g":0,"l":0,"u":0,"m":1},
{"c":"TAN1802","r":"MAM  65-70°S","h":8.5,"o":0,"g":0,"l":0,"u":0,"m":0},
{"c":"TAN1502","r":"MAM  65-70°S","ot":"100%","gt":"57%","mt":"76%","d":"(4.6 day)"},
{"c":"TAN1502","r":"MAM  65-70°S","h":0.05,"o":16,"g":8,"l":5,"u":20,"m":12},
{"c":"TAN1502","r":"MAM  65-70°S","h":0.25,"o":25,"g":30,"l":20,"u":95,"m":20},
{"c":"TAN1502","r":"MAM  65-70°S","h":0.5,"o":32,"g":53,"l":38,"u":80,"m":29},
{"c":"TAN1502","r":"MAM  65-70°S","h":0.75,"o":39,"g":30,"l":20,"u":45,"m":16},
{"c":"TAN1502","r":"MAM  65-70°S","h":1,"o":20,"g":12,"l":7,"u":20,"m":10},
{"c":"TAN1502","r":"MAM  65-70°S","h":1.3,"o":10,"g":5,"l":3,"u":9,"m":6},
{"c":"TAN1502","r":"MAM  65-70°S","h":1.6,"o":6,"g":3,"l":1,"u":6,"m":4},
{"c":"TAN1502","r":"MAM  65-70°S","h":1.9,"o":3,"g":2,"l":1,"u":4,"m":2},
{"c":"TAN1502","r":"MAM  65-70°S","h":2.3,"o":1,"g":1,"l":0,"u":2,"m":2},
{"c":"TAN1502","r":"MAM  65-70°S","h":3,"o":0,"g":0,"l":0,"u":1,"m":2},
{"c":"TAN1502","r":"MAM  65-70°S","h":4.3,"o":0,"g":0,"l":0,"u":0,"m":2},
{"c":"TAN1502","r":"MAM  65-70°S","h":5.5,"o":0,"g":0,"l":0,"u":0,"m":2},
{"c":"TAN1502","r":"MAM  65-70°S","h":7,"o":0,"g":0,"l":0,"u":0,"m":1},
{"c":"TAN1502","r":"MAM  65-70°S","h":8.5,"o":0,"g":0,"l":0,"u":0,"m":1},
{"c":"HMNZSW16","r":"MAM  65-70°S"},
{"c":"AA15","r":"MAM  65-70°S"},
{"c":"NBP1704","r":"MAM  65-70°S","ot":"88%","gt":"62%","mt":"80%","d":"(4.7 day)"},
{"c":"NBP1704","r":"MAM  65-70°S","h":0.05,"o":50,"g":2,"l":1,"u":4,"m":10},
{"c":"NBP1704","r":"MAM  65-70°S","h":0.25,"o":46,"g":3,"l":2,"u":6,"m":28},
{"c":"NBP1704","r":"MAM  65-70°S","h":0.5,"o":20,"g":15,"l":10,"u":22,"m":48},
{"c":"NBP1704","r":"MAM  65-70°S","h":0.75,"o":9,"g":25,"l":18,"u":34,"m":12},
{"c":"NBP1704","r":"MAM  65-70°S","h":1,"o":8,"g":30,"l":23,"u":38,"m":5},
{"c":"NBP1704","r":"MAM  65-70°S","h":1.3,"o":5,"g":22,"l":16,"u":30,"m":3},
{"c":"NBP1704","r":"MAM  65-70°S","h":1.6,"o":3,"g":14,"l":10,"u":20,"m":2},
{"c":"NBP1704","r":"MAM  65-70°S","h":1.9,"o":1,"g":6,"l":3,"u":10,"m":1},
{"c":"NBP1704","r":"MAM  65-70°S","h":2.3,"o":0,"g":2,"l":0,"u":4,"m":0},
{"c":"NBP1704","r":"MAM  65-70°S","h":3,"o":0,"g":0,"l":0,"u":1,"m":0},
{"c":"NBP1704","r":"MAM  65-70°S","h":4.3,"o":0,"g":8,"l":3,"u":14,"m":0},
{"c":"NBP1704","r":"MAM  65-70°S","h":5.5,"o":0,"g":0,"l":0,"u":2,"m":0},
{"c":"NBP1704","r":"MAM  65-70°S","h":7,"o":0,"g":0,"l":0,"u":0,"m":0},
{"c":"NBP1704","r":"MAM  65-70°S","h":8.5,"o":0,"g":0,"l":0,"u":0,"m":0}
]},
"spacing":0,
"resolve":{"scale":{"x":"shared","y":"shared"}},
"hconcat":[
{"transform":[{"filter":"datum.c == 'TAN1802'"}],
"facet":{"row":{"field":"r","type":"nominal","sort":["DJF  55-60°S","DJF  60-65°S","DJF  65-70°S","MAM  55-60°S","MAM  60-65°S","MAM  65-70°S"],"title":null,"header":{"labelAngle":0,"labelFontSize":10.5,"labelPadding":-64}},
"column":{"field":"c","type":"nominal","title":null,"header":{"labelFontSize":10.5,"labelPadding":4}}},
"spacing":0,
"spec":{"width":76,"height":92,"layer":[
{"transform":[{"filter":"isValid(datum.l)"}],"mark":{"type":"area","color":"#ff0000","opacity":0.18},
"encoding":{"y":{"field":"h","type":"quantitative","scale":{"domain":[0,10],"nice":false},"axis":{"values":[0,2,4,6,8],"title":"Height (km)","labelFlush":1}},
"x":{"field":"l","type":"quantitative","scale":{"domain":[0,100],"nice":false},"axis":{"values":[0,20,40,60,80],"title":"Occur. (%)"}},"x2":{"field":"u"}}},
{"transform":[{"fold":["o","g","m"],"as":["s","v"]},{"filter":"isValid(datum.v)"}],"mark":{"type":"line","strokeWidth":1.2},
"encoding":{"y":{"field":"h","type":"quantitative"},"x":{"field":"v","type":"quantitative"},"order":{"field":"h","type":"quantitative"},
"color":{"field":"s","type":"nominal","scale":{"domain":["o","g","m"],"range":["#1e90ff","#ff1a1a","#239a23"]},
"legend":{"title":null,"orient":"none","legendX":432,"legendY":20,"symbolType":"stroke","symbolStrokeWidth":1.5,"symbolSize":200,"labelFontSize":6.5,"fillColor":"#ebebeb","padding":5,"rowPadding":2,"cornerRadius":3,"labelExpr":"datum.label == 'o' ? 'OBS' : datum.label == 'g' ? 'GA7.0U/1980-89' : 'MERRA2'"}}}},
{"transform":[{"filter":"isValid(datum.m)"}],"mark":{"type":"point","filled":true,"size":4,"color":"#239a23","opacity":1},"encoding":{"x":{"field":"m","type":"quantitative"},"y":{"field":"h","type":"quantitative"}}},
{"transform":[{"filter":"!isValid(datum.h)"}],"mark":{"type":"rule","color":"#555555","strokeWidth":1.5},"encoding":{"y":{"value":{"expr":"scale('y', 0)"}}}},
{"transform":[{"filter":"isValid(datum.ot)"}],"mark":{"type":"text","align":"right","baseline":"middle","fontSize":8,"color":"#1e90ff"},"encoding":{"x":{"value":{"expr":"scale('x', 36)"}},"y":{"value":{"expr":"scale('y', 9.3)"}},"text":{"field":"ot"}}},
{"transform":[{"filter":"isValid(datum.gt)"}],"mark":{"type":"text","align":"left","baseline":"middle","fontSize":8,"color":"#ff1a1a"},"encoding":{"x":{"value":{"expr":"scale('x', 39)"}},"y":{"value":{"expr":"scale('y', 9.3)"}},"text":{"field":"gt"}}},
{"transform":[{"filter":"isValid(datum.mt)"}],"mark":{"type":"text","align":"left","baseline":"middle","fontSize":8,"color":"#239a23"},"encoding":{"x":{"value":{"expr":"scale('x', 67)"}},"y":{"value":{"expr":"scale('y', 9.3)"}},"text":{"field":"mt"}}},
{"transform":[{"filter":"isValid(datum.d)"}],"mark":{"type":"text","align":"center","baseline":"middle","fontSize":7,"color":"#333333"},"encoding":{"x":{"value":{"expr":"scale('x', 50)"}},"y":{"value":{"expr":"scale('y', 8.2)"}},"text":{"field":"d"}}}
]}},
{"transform":[{"filter":"datum.c == 'TAN1502'"}],
"facet":{"row":{"field":"r","type":"nominal","sort":["DJF  55-60°S","DJF  60-65°S","DJF  65-70°S","MAM  55-60°S","MAM  60-65°S","MAM  65-70°S"],"title":null,"header":{"labels":false}},
"column":{"field":"c","type":"nominal","title":null,"header":{"labelFontSize":10.5,"labelPadding":4}}},
"spacing":0,
"spec":{"width":76,"height":92,"layer":[
{"transform":[{"filter":"isValid(datum.l)"}],"mark":{"type":"area","color":"#ff0000","opacity":0.18},
"encoding":{"y":{"field":"h","type":"quantitative","scale":{"domain":[0,10],"nice":false},"axis":{"values":[0,2,4,6,8],"title":null,"labels":false}},
"x":{"field":"l","type":"quantitative","scale":{"domain":[0,100],"nice":false},"axis":{"values":[0,20,40,60,80],"title":"Occur. (%)"}},"x2":{"field":"u"}}},
{"transform":[{"fold":["o","g","m"],"as":["s","v"]},{"filter":"isValid(datum.v)"}],"mark":{"type":"line","strokeWidth":1.2},
"encoding":{"y":{"field":"h","type":"quantitative"},"x":{"field":"v","type":"quantitative"},"order":{"field":"h","type":"quantitative"},
"color":{"field":"s","type":"nominal","scale":{"domain":["o","g","m"],"range":["#1e90ff","#ff1a1a","#239a23"]},
"legend":{"title":null,"orient":"none","legendX":432,"legendY":20,"symbolType":"stroke","symbolStrokeWidth":1.5,"symbolSize":200,"labelFontSize":6.5,"fillColor":"#ebebeb","padding":5,"rowPadding":2,"cornerRadius":3,"labelExpr":"datum.label == 'o' ? 'OBS' : datum.label == 'g' ? 'GA7.0U/1980-89' : 'MERRA2'"}}}},
{"transform":[{"filter":"isValid(datum.m)"}],"mark":{"type":"point","filled":true,"size":4,"color":"#239a23","opacity":1},"encoding":{"x":{"field":"m","type":"quantitative"},"y":{"field":"h","type":"quantitative"}}},
{"transform":[{"filter":"!isValid(datum.h)"}],"mark":{"type":"rule","color":"#555555","strokeWidth":1.5},"encoding":{"y":{"value":{"expr":"scale('y', 0)"}}}},
{"transform":[{"filter":"isValid(datum.ot)"}],"mark":{"type":"text","align":"right","baseline":"middle","fontSize":8,"color":"#1e90ff"},"encoding":{"x":{"value":{"expr":"scale('x', 36)"}},"y":{"value":{"expr":"scale('y', 9.3)"}},"text":{"field":"ot"}}},
{"transform":[{"filter":"isValid(datum.gt)"}],"mark":{"type":"text","align":"left","baseline":"middle","fontSize":8,"color":"#ff1a1a"},"encoding":{"x":{"value":{"expr":"scale('x', 39)"}},"y":{"value":{"expr":"scale('y', 9.3)"}},"text":{"field":"gt"}}},
{"transform":[{"filter":"isValid(datum.mt)"}],"mark":{"type":"text","align":"left","baseline":"middle","fontSize":8,"color":"#239a23"},"encoding":{"x":{"value":{"expr":"scale('x', 67)"}},"y":{"value":{"expr":"scale('y', 9.3)"}},"text":{"field":"mt"}}},
{"transform":[{"filter":"isValid(datum.d)"}],"mark":{"type":"text","align":"center","baseline":"middle","fontSize":7,"color":"#333333"},"encoding":{"x":{"value":{"expr":"scale('x', 50)"}},"y":{"value":{"expr":"scale('y', 8.2)"}},"text":{"field":"d"}}}
]}},
{"transform":[{"filter":"datum.c == 'HMNZSW16'"}],
"facet":{"row":{"field":"r","type":"nominal","sort":["DJF  55-60°S","DJF  60-65°S","DJF  65-70°S","MAM  55-60°S","MAM  60-65°S","MAM  65-70°S"],"title":null,"header":{"labels":false}},
"column":{"field":"c","type":"nominal","title":null,"header":{"labelFontSize":10.5,"labelPadding":4}}},
"spacing":0,
"spec":{"width":76,"height":92,"layer":[
{"transform":[{"filter":"isValid(datum.l)"}],"mark":{"type":"area","color":"#ff0000","opacity":0.18},
"encoding":{"y":{"field":"h","type":"quantitative","scale":{"domain":[0,10],"nice":false},"axis":{"values":[0,2,4,6,8],"title":null,"labels":false}},
"x":{"field":"l","type":"quantitative","scale":{"domain":[0,100],"nice":false},"axis":{"values":[0,20,40,60,80],"title":"Occur. (%)"}},"x2":{"field":"u"}}},
{"transform":[{"fold":["o","g","m"],"as":["s","v"]},{"filter":"isValid(datum.v)"}],"mark":{"type":"line","strokeWidth":1.2},
"encoding":{"y":{"field":"h","type":"quantitative"},"x":{"field":"v","type":"quantitative"},"order":{"field":"h","type":"quantitative"},
"color":{"field":"s","type":"nominal","scale":{"domain":["o","g","m"],"range":["#1e90ff","#ff1a1a","#239a23"]},
"legend":{"title":null,"orient":"none","legendX":432,"legendY":20,"symbolType":"stroke","symbolStrokeWidth":1.5,"symbolSize":200,"labelFontSize":6.5,"fillColor":"#ebebeb","padding":5,"rowPadding":2,"cornerRadius":3,"labelExpr":"datum.label == 'o' ? 'OBS' : datum.label == 'g' ? 'GA7.0U/1980-89' : 'MERRA2'"}}}},
{"transform":[{"filter":"isValid(datum.m)"}],"mark":{"type":"point","filled":true,"size":4,"color":"#239a23","opacity":1},"encoding":{"x":{"field":"m","type":"quantitative"},"y":{"field":"h","type":"quantitative"}}},
{"transform":[{"filter":"!isValid(datum.h)"}],"mark":{"type":"rule","color":"#555555","strokeWidth":1.5},"encoding":{"y":{"value":{"expr":"scale('y', 0)"}}}},
{"transform":[{"filter":"isValid(datum.ot)"}],"mark":{"type":"text","align":"right","baseline":"middle","fontSize":8,"color":"#1e90ff"},"encoding":{"x":{"value":{"expr":"scale('x', 36)"}},"y":{"value":{"expr":"scale('y', 9.3)"}},"text":{"field":"ot"}}},
{"transform":[{"filter":"isValid(datum.gt)"}],"mark":{"type":"text","align":"left","baseline":"middle","fontSize":8,"color":"#ff1a1a"},"encoding":{"x":{"value":{"expr":"scale('x', 39)"}},"y":{"value":{"expr":"scale('y', 9.3)"}},"text":{"field":"gt"}}},
{"transform":[{"filter":"isValid(datum.mt)"}],"mark":{"type":"text","align":"left","baseline":"middle","fontSize":8,"color":"#239a23"},"encoding":{"x":{"value":{"expr":"scale('x', 67)"}},"y":{"value":{"expr":"scale('y', 9.3)"}},"text":{"field":"mt"}}},
{"transform":[{"filter":"isValid(datum.d)"}],"mark":{"type":"text","align":"center","baseline":"middle","fontSize":7,"color":"#333333"},"encoding":{"x":{"value":{"expr":"scale('x', 50)"}},"y":{"value":{"expr":"scale('y', 8.2)"}},"text":{"field":"d"}}}
]}},
{"transform":[{"filter":"datum.c == 'AA15'"}],
"facet":{"row":{"field":"r","type":"nominal","sort":["DJF  55-60°S","DJF  60-65°S","DJF  65-70°S","MAM  55-60°S","MAM  60-65°S","MAM  65-70°S"],"title":null,"header":{"labels":false}},
"column":{"field":"c","type":"nominal","title":null,"header":{"labelFontSize":10.5,"labelPadding":4}}},
"spacing":0,
"spec":{"width":76,"height":92,"layer":[
{"transform":[{"filter":"isValid(datum.l)"}],"mark":{"type":"area","color":"#ff0000","opacity":0.18},
"encoding":{"y":{"field":"h","type":"quantitative","scale":{"domain":[0,10],"nice":false},"axis":{"values":[0,2,4,6,8],"title":null,"labels":false}},
"x":{"field":"l","type":"quantitative","scale":{"domain":[0,100],"nice":false},"axis":{"values":[0,20,40,60,80],"title":"Occur. (%)"}},"x2":{"field":"u"}}},
{"transform":[{"fold":["o","g","m"],"as":["s","v"]},{"filter":"isValid(datum.v)"}],"mark":{"type":"line","strokeWidth":1.2},
"encoding":{"y":{"field":"h","type":"quantitative"},"x":{"field":"v","type":"quantitative"},"order":{"field":"h","type":"quantitative"},
"color":{"field":"s","type":"nominal","scale":{"domain":["o","g","m"],"range":["#1e90ff","#ff1a1a","#239a23"]},
"legend":{"title":null,"orient":"none","legendX":432,"legendY":20,"symbolType":"stroke","symbolStrokeWidth":1.5,"symbolSize":200,"labelFontSize":6.5,"fillColor":"#ebebeb","padding":5,"rowPadding":2,"cornerRadius":3,"labelExpr":"datum.label == 'o' ? 'OBS' : datum.label == 'g' ? 'GA7.0U/1980-89' : 'MERRA2'"}}}},
{"transform":[{"filter":"isValid(datum.m)"}],"mark":{"type":"point","filled":true,"size":4,"color":"#239a23","opacity":1},"encoding":{"x":{"field":"m","type":"quantitative"},"y":{"field":"h","type":"quantitative"}}},
{"transform":[{"filter":"!isValid(datum.h)"}],"mark":{"type":"rule","color":"#555555","strokeWidth":1.5},"encoding":{"y":{"value":{"expr":"scale('y', 0)"}}}},
{"transform":[{"filter":"isValid(datum.ot)"}],"mark":{"type":"text","align":"right","baseline":"middle","fontSize":8,"color":"#1e90ff"},"encoding":{"x":{"value":{"expr":"scale('x', 36)"}},"y":{"value":{"expr":"scale('y', 9.3)"}},"text":{"field":"ot"}}},
{"transform":[{"filter":"isValid(datum.gt)"}],"mark":{"type":"text","align":"left","baseline":"middle","fontSize":8,"color":"#ff1a1a"},"encoding":{"x":{"value":{"expr":"scale('x', 39)"}},"y":{"value":{"expr":"scale('y', 9.3)"}},"text":{"field":"gt"}}},
{"transform":[{"filter":"isValid(datum.mt)"}],"mark":{"type":"text","align":"left","baseline":"middle","fontSize":8,"color":"#239a23"},"encoding":{"x":{"value":{"expr":"scale('x', 67)"}},"y":{"value":{"expr":"scale('y', 9.3)"}},"text":{"field":"mt"}}},
{"transform":[{"filter":"isValid(datum.d)"}],"mark":{"type":"text","align":"center","baseline":"middle","fontSize":7,"color":"#333333"},"encoding":{"x":{"value":{"expr":"scale('x', 50)"}},"y":{"value":{"expr":"scale('y', 8.2)"}},"text":{"field":"d"}}}
]}},
{"transform":[{"filter":"datum.c == 'NBP1704'"}],
"facet":{"row":{"field":"r","type":"nominal","sort":["DJF  55-60°S","DJF  60-65°S","DJF  65-70°S","MAM  55-60°S","MAM  60-65°S","MAM  65-70°S"],"title":null,"header":{"labels":false}},
"column":{"field":"c","type":"nominal","title":null,"header":{"labelFontSize":10.5,"labelPadding":4}}},
"spacing":0,
"spec":{"width":76,"height":92,"layer":[
{"transform":[{"filter":"isValid(datum.l)"}],"mark":{"type":"area","color":"#ff0000","opacity":0.18},
"encoding":{"y":{"field":"h","type":"quantitative","scale":{"domain":[0,10],"nice":false},"axis":{"values":[0,2,4,6,8],"title":null,"labels":false}},
"x":{"field":"l","type":"quantitative","scale":{"domain":[0,100],"nice":false},"axis":{"values":[0,20,40,60,80],"title":"Occur. (%)"}},"x2":{"field":"u"}}},
{"transform":[{"fold":["o","g","m"],"as":["s","v"]},{"filter":"isValid(datum.v)"}],"mark":{"type":"line","strokeWidth":1.2},
"encoding":{"y":{"field":"h","type":"quantitative"},"x":{"field":"v","type":"quantitative"},"order":{"field":"h","type":"quantitative"},
"color":{"field":"s","type":"nominal","scale":{"domain":["o","g","m"],"range":["#1e90ff","#ff1a1a","#239a23"]},
"legend":{"title":null,"orient":"none","legendX":432,"legendY":20,"symbolType":"stroke","symbolStrokeWidth":1.5,"symbolSize":200,"labelFontSize":6.5,"fillColor":"#ebebeb","padding":5,"rowPadding":2,"cornerRadius":3,"labelExpr":"datum.label == 'o' ? 'OBS' : datum.label == 'g' ? 'GA7.0U/1980-89' : 'MERRA2'"}}}},
{"transform":[{"filter":"isValid(datum.m)"}],"mark":{"type":"point","filled":true,"size":4,"color":"#239a23","opacity":1},"encoding":{"x":{"field":"m","type":"quantitative"},"y":{"field":"h","type":"quantitative"}}},
{"transform":[{"filter":"!isValid(datum.h)"}],"mark":{"type":"rule","color":"#555555","strokeWidth":1.5},"encoding":{"y":{"value":{"expr":"scale('y', 0)"}}}},
{"transform":[{"filter":"isValid(datum.ot)"}],"mark":{"type":"text","align":"right","baseline":"middle","fontSize":8,"color":"#1e90ff"},"encoding":{"x":{"value":{"expr":"scale('x', 36)"}},"y":{"value":{"expr":"scale('y', 9.3)"}},"text":{"field":"ot"}}},
{"transform":[{"filter":"isValid(datum.gt)"}],"mark":{"type":"text","align":"left","baseline":"middle","fontSize":8,"color":"#ff1a1a"},"encoding":{"x":{"value":{"expr":"scale('x', 39)"}},"y":{"value":{"expr":"scale('y', 9.3)"}},"text":{"field":"gt"}}},
{"transform":[{"filter":"isValid(datum.mt)"}],"mark":{"type":"text","align":"left","baseline":"middle","fontSize":8,"color":"#239a23"},"encoding":{"x":{"value":{"expr":"scale('x', 67)"}},"y":{"value":{"expr":"scale('y', 9.3)"}},"text":{"field":"mt"}}},
{"transform":[{"filter":"isValid(datum.d)"}],"mark":{"type":"text","align":"center","baseline":"middle","fontSize":7,"color":"#333333"},"encoding":{"x":{"value":{"expr":"scale('x', 50)"}},"y":{"value":{"expr":"scale('y', 8.2)"}},"text":{"field":"d"}}}
]}}
]
}
